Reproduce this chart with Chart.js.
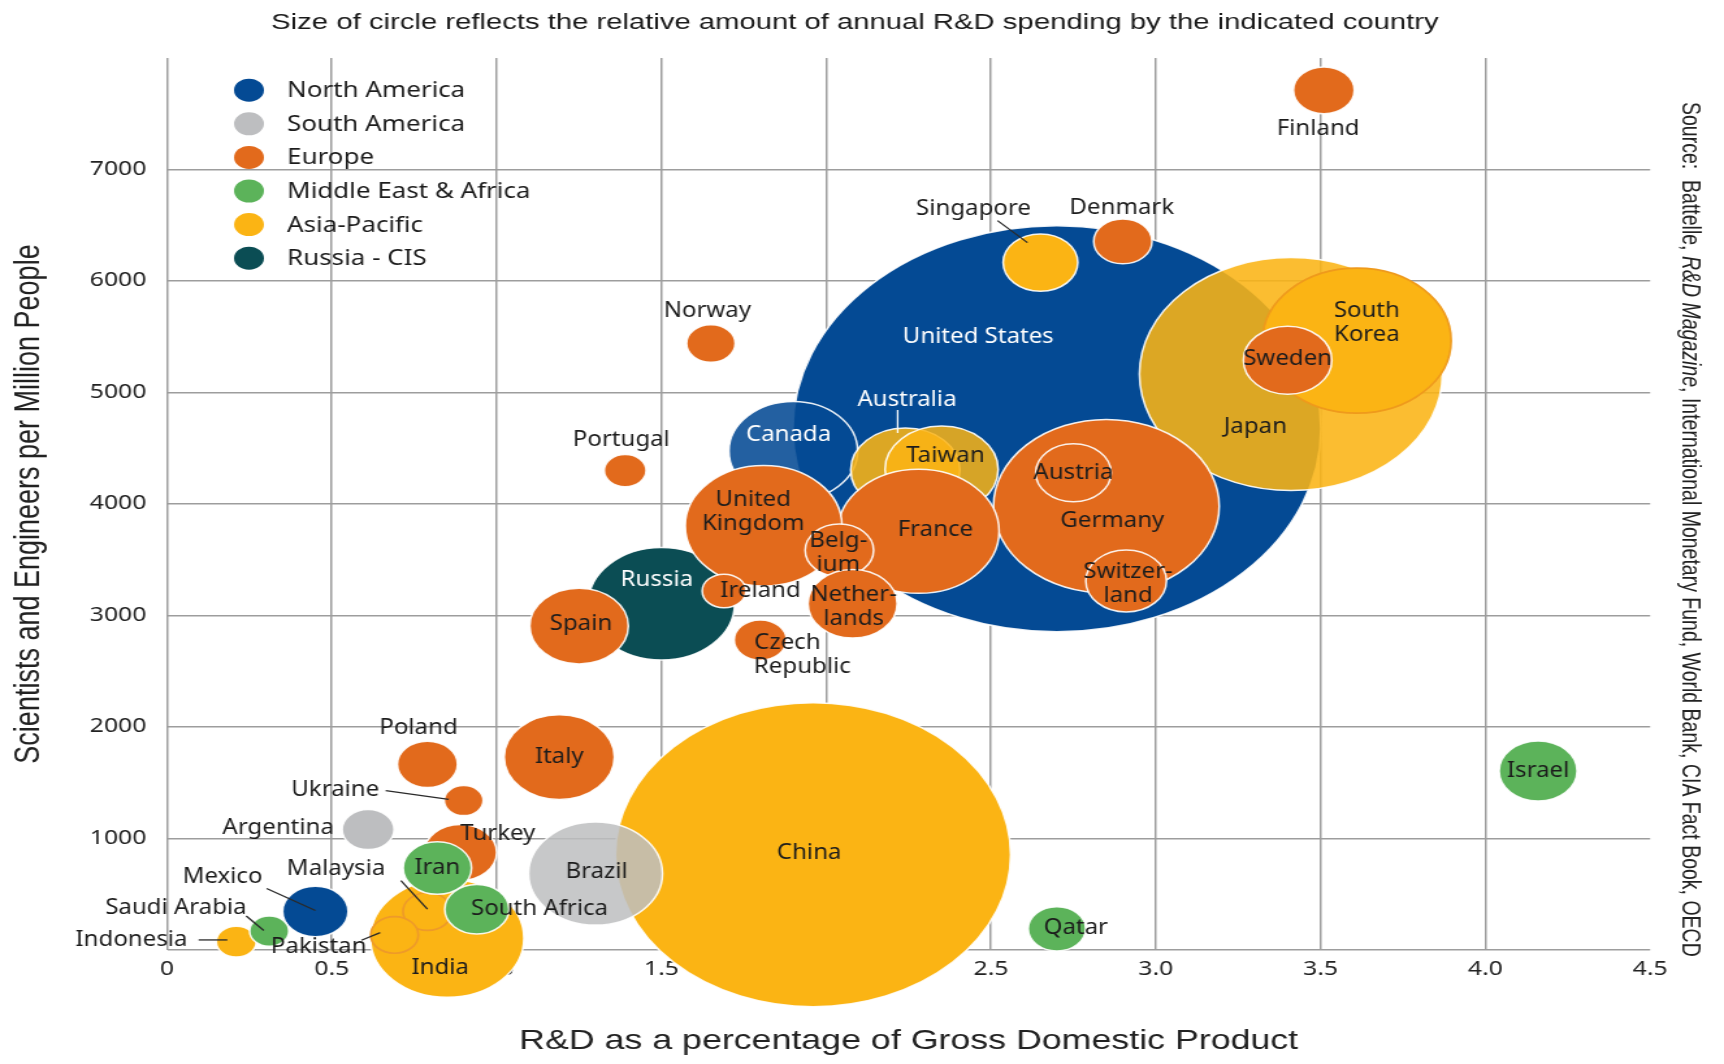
<!DOCTYPE html>
<html lang="en">
<head>
<meta charset="UTF-8">
<title>R&D spending vs. scientists and engineers</title>
<script src="https://cdn.jsdelivr.net/npm/chart.js"></script>
<style>
  html, body { margin: 0; padding: 0; background: #fff; }
</style>
</head>
<body>
<!-- drawn 1326 wide and stretched to 1724 like the original artwork -->
<canvas id="chart" width="1326" height="1064" style="width:1724px;height:1064px;display:block"></canvas>
<script>
// x = R&D as % of GDP, y = scientists & engineers per million people,
// r = bubble size (relative annual R&D spending)
const naCountries = ['United States', 'Canada', 'Mexico'];
const naRd = [2.70, 1.90, 0.45];
const naSci = [4675, 4475, 345];
const naSpend = [203, 49.5, 25.2];

const saCountries = ['Brazil', 'Argentina'];
const saRd = [1.30, 0.61];
const saSci = [685, 1080];
const saSpend = [51.5, 20];

const euCountries = ['Germany', 'Austria', 'Switzerland', 'France', 'United Kingdom', 'Belgium',
  'Netherlands', 'Ireland', 'Spain', 'Czech Republic', 'Italy', 'Poland', 'Ukraine', 'Turkey',
  'Norway', 'Portugal', 'Denmark', 'Sweden', 'Finland'];
const euRd = [2.85, 2.75, 2.91, 2.28, 1.81, 2.04, 2.08, 1.69, 1.25, 1.80, 1.19, 0.79, 0.90, 0.89,
  1.65, 1.39, 2.90, 3.40, 3.51];
const euSci = [3980, 4280, 3310, 3755, 3805, 3585, 3105, 3220, 2905, 2780, 1730, 1665, 1340, 875,
  5440, 4300, 6355, 5290, 7710];
const euSpend = [86.8, 29, 31, 62, 60.3, 26.3, 34.3, 16.8, 37.9, 20.1, 42.4, 23.1, 15, 27.9,
  18.7, 16.1, 22.4, 34, 23.4];

const meCountries = ['Iran', 'South Africa', 'Saudi Arabia', 'Qatar', 'Israel'];
const meRd = [0.82, 0.94, 0.31, 2.70, 4.16];
const meSci = [735, 365, 170, 190, 1605];
const meSpend = [26.3, 24.7, 15.1, 22.1, 30];

const apCountries = ['China', 'Japan', 'South Korea', 'Australia', 'Taiwan', 'India', 'Malaysia',
  'Pakistan', 'Singapore', 'Indonesia'];
const apRd = [1.96, 3.41, 3.61, 2.24, 2.35, 0.85, 0.79, 0.69, 2.65, 0.21];
const apSci = [855, 5165, 5465, 4305, 4310, 105, 345, 135, 6165, 75];
const apSpend = [152, 116.5, 72.5, 42, 43.5, 59, 18.8, 18.3, 28.7, 15.4];

const cisCountries = ['Russia'];
const cisRd = [1.50];
const cisSci = [3105];
const cisSpend = [56.3];

const xTicks = [0, 0.5, 1.0, 1.5, 2.0, 2.5, 3.0, 3.5, 4.0, 4.5];

// label placement around each bubble (px, canvas units)
const labelLayout = {
  'United States': { dx: -60.5, dy: -92, white: true },
  'Canada': { dx: -3.6, dy: -15.6, white: true },
  'Mexico': { dx: -71.4, dy: -35, lead: [-37.5, -23, 0, -1] },
  'Brazil': { dx: 0.8, dy: -2 },
  'Argentina': { dx: -69.2, dy: -1.5 },
  'Germany': { dx: 4.6, dy: 15 },
  'Austria': { dx: 0, dy: 0 },
  'Switzerland': { text: ['Switzer-', 'land'], dx: 1.5, dy: 3 },
  'France': { dx: 13, dy: -1 },
  'United Kingdom': { text: ['United', 'Kingdom'], dx: -8, dy: -13.7 },
  'Belgium': { text: ['Belg-', 'ium'], dx: -0.8, dy: 3 },
  'Netherlands': { text: ['Nether-', 'lands'], dx: 0.8, dy: 3 },
  'Ireland': { dx: 28, dy: 0 },
  'Spain': { dx: 1.5, dy: -2 },
  'Czech Republic': { text: ['Czech', 'Republic'], lineDx: [20.8, 32.3], dy: 14.7 },
  'Italy': { dx: 0, dy: 0 },
  'Poland': { dx: -6.9, dy: -36.6 },
  'Ukraine': { dx: -98.8, dy: -11, lead: [-60, -10, -11.5, -1.2] },
  'Turkey': { dx: 28.8, dy: -18 },
  'Norway': { dx: -2.7, dy: -32 },
  'Portugal': { dx: -3, dy: -31 },
  'Denmark': { dx: -0.8, dy: -33 },
  'Sweden': { dx: 0, dy: -1.6 },
  'Finland': { dx: -4.4, dy: 38.4 },
  'Iran': { dx: 0, dy: 0 },
  'South Africa': { dx: 48.2, dy: 0 },
  'Saudi Arabia': { dx: -71.8, dy: -22.6, lead: [-17.7, -15, -4.2, -0.6] },
  'Qatar': { dx: 14.6, dy: -1 },
  'Israel': { dx: 0, dy: 0 },
  'China': { dx: -3, dy: -2 },
  'Japan': { dx: -27.3, dy: 52.6 },
  'South Korea': { text: ['South', 'Korea'], dx: 7.7, dy: -17.3 },
  'Australia': { dx: 1.3, dy: -70, white: true, lead: [-5.9, -60, -5.9, -37] },
  'Taiwan': { dx: 3, dy: -13.5 },
  'India': { dx: -5.4, dy: 29.3 },
  'Malaysia': { dx: -70.3, dy: -43, lead: [-20.4, -31, 0, -2.4] },
  'Pakistan': { dx: -58.3, dy: 12, lead: [-25.4, 5.3, -11, -2.3] },
  'Singapore': { dx: -51.5, dy: -53.5, lead: [-33, -42, -10, -20] },
  'Indonesia': { dx: -80.6, dy: -1.7, lead: [-29, -1.7, -6.9, -1.7] },
  'Russia': { dx: -3.5, dy: -23.5, white: true }
};

// bubbles that get a coloured rim instead of the white one
const rimColors = {
  'South Korea': '#ef9a1c',
  'Malaysia': '#ee9a2a',
  'Pakistan': '#ee9a2a'
};

// bubbles drawn slightly see-through (everything else is opaque)
const seeThrough = {
  'Japan': 0.88,
  'Australia': 0.88,
  'Taiwan': 0.85,
  'Canada': 0.88,
  'Brazil': 0.85
};

function toPoints(names, xs, ys, rs) {
  return names.map((n, i) => ({ x: xs[i], y: ys[i], r: rs[i], name: n }));
}

function rgba(hex, a) {
  const n = parseInt(hex.slice(1), 16);
  return `rgba(${n >> 16},${(n >> 8) & 255},${n & 255},${a})`;
}

function region(label, color, order, points) {
  return {
    label,
    data: points,
    solid: color,
    backgroundColor: c => rgba(color, (c.raw && seeThrough[c.raw.name]) || 1),
    borderColor: c => (c.raw && rimColors[c.raw.name]) || 'rgba(255,255,255,0.9)',
    borderWidth: c => (c.raw && rimColors[c.raw.name]) ? 1.6 : 1.5,
    order,
    clip: false
  };
}

const LABEL_FONT = '21px "Noto Sans"';

function squeezedText(ctx, text, x, y, squeeze) {
  ctx.save();
  ctx.translate(x, y);
  ctx.scale(squeeze, 1);
  ctx.fillText(text, 0, 0);
  ctx.restore();
}

const countryLabels = {
  id: 'countryLabels',
  afterDatasetsDraw(chart) {
    const ctx = chart.ctx;
    ctx.save();
    ctx.font = LABEL_FONT;
    ctx.textAlign = 'center';
    ctx.textBaseline = 'middle';
    chart.data.datasets.forEach((ds, i) => {
      chart.getDatasetMeta(i).data.forEach((pt, j) => {
        const name = ds.data[j].name;
        const lay = labelLayout[name] || { dx: 0, dy: 0 };
        if (lay.lead) {
          ctx.beginPath();
          ctx.moveTo(pt.x + lay.lead[0], pt.y + lay.lead[1]);
          ctx.lineTo(pt.x + lay.lead[2], pt.y + lay.lead[3]);
          ctx.strokeStyle = lay.white ? '#ffffff' : '#2a2a2a';
          ctx.lineWidth = 1.3;
          ctx.stroke();
        }
        const lines = Array.isArray(lay.text) ? lay.text : [lay.text || name];
        ctx.fillStyle = lay.white ? '#ffffff' : '#1c1c1c';
        lines.forEach((t, k) => {
          const dx = lay.lineDx ? lay.lineDx[k] : lay.dx;
          const dy = lay.dy + (k - (lines.length - 1) / 2) * 24;
          squeezedText(ctx, t, pt.x + dx, pt.y + dy, 0.88);
        });
      });
    });
    ctx.restore();
  }
};

const regionLegend = {
  id: 'regionLegend',
  afterDatasetsDraw(chart) {
    const ctx = chart.ctx;
    const area = chart.chartArea;
    ctx.save();
    ctx.font = LABEL_FONT;
    ctx.textAlign = 'left';
    ctx.textBaseline = 'middle';
    chart.data.datasets.forEach((ds, i) => {
      const y = area.top + 32.2 + i * 33.6;
      ctx.beginPath();
      ctx.arc(area.left + 63, y, 11.5, 0, Math.PI * 2);
      ctx.fillStyle = ds.solid;
      ctx.fill();
      ctx.fillStyle = '#1c1c1c';
      squeezedText(ctx, ds.label, area.left + 92.3, y + 1, 0.95);
    });
    ctx.restore();
  }
};

const sourceNote = {
  id: 'sourceNote',
  afterDraw(chart) {
    const ctx = chart.ctx;
    const area = chart.chartArea;
    const parts = [
      ['Source:  Battelle, ', false],
      ['R&D Magazine', true],
      [', International Monetary Fund, World Bank, CIA Fact Book, OECD', false]
    ];
    ctx.save();
    ctx.translate(area.right + 30, area.top + 44);
    ctx.rotate(Math.PI / 2);
    ctx.textAlign = 'left';
    ctx.textBaseline = 'middle';
    ctx.fillStyle = '#222';
    let x = 0;
    parts.forEach(([t, it]) => {
      ctx.font = (it ? 'italic ' : '') + '19.5px "Liberation Sans"';
      ctx.fillText(t, x, 0);
      x += ctx.measureText(t).width;
    });
    ctx.restore();
  }
};

const gridColor = '#9d9d9d';

new Chart(document.getElementById('chart'), {
  type: 'bubble',
  data: {
    datasets: [
      region('North America', '#044a94', 5, toPoints(naCountries, naRd, naSci, naSpend)),
      region('South America', '#bdbec0', 1, toPoints(saCountries, saRd, saSci, saSpend)),
      region('Europe', '#e26a1c', 2, toPoints(euCountries, euRd, euSci, euSpend)),
      region('Middle East & Africa', '#5cb35a', 0, toPoints(meCountries, meRd, meSci, meSpend)),
      region('Asia-Pacific', '#fbb414', 3, toPoints(apCountries, apRd, apSci, apSpend)),
      region('Russia - CIS', '#0b4d54', 4, toPoints(cisCountries, cisRd, cisSci, cisSpend))
    ]
  },
  options: {
    responsive: false,
    devicePixelRatio: 1,
    animation: false,
    events: [],
    layout: { autoPadding: false, padding: { left: 0, right: 10.8, top: 0, bottom: 0 } },
    plugins: {
      legend: { display: false },
      tooltip: { enabled: false },
      title: {
        display: true,
        text: 'Size of circle reflects the relative amount of annual R&D spending by the indicated country',
        color: '#1a1a1a',
        font: { family: 'Liberation Sans', size: 22.5, weight: 'normal' },
        padding: { top: 9.5, bottom: 21.5 }
      }
    },
    scales: {
      x: {
        type: 'linear',
        min: 0,
        max: 4.5,
        afterBuildTicks: s => { s.ticks = xTicks.map(v => ({ value: v })); },
        ticks: {
          padding: 8,
          color: '#222',
          font: { family: 'Noto Sans', size: 19 },
          maxRotation: 0,
          autoSkip: false,
          callback: v => v === 0 ? '0' : v.toFixed(1)
        },
        grid: {
          color: c => c.tick && c.tick.value === 4.5 ? 'rgba(0,0,0,0)' : gridColor,
          lineWidth: 1.5,
          drawTicks: false
        },
        border: { display: false },
        title: {
          display: true,
          text: 'R&D as a percentage of Gross Domestic Product',
          color: '#222',
          font: { family: 'Liberation Sans', size: 27.5 },
          padding: { top: 0, bottom: 6.2 }
        },
        afterFit: s => { s.height = 114; }
      },
      y: {
        min: 0,
        max: 8000,
        ticks: {
          stepSize: 1000,
          padding: 16,
          color: '#222',
          font: { family: 'Noto Sans', size: 19 },
          callback: v => (v === 0 || v === 8000) ? '' : String(v)
        },
        grid: {
          color: c => c.tick && c.tick.value === 8000 ? 'rgba(0,0,0,0)' : gridColor,
          lineWidth: 1.5,
          drawTicks: false
        },
        border: { display: false },
        title: {
          display: true,
          text: 'Scientists and Engineers per Million People',
          color: '#222',
          font: { family: 'Liberation Sans', size: 27 },
          padding: { top: 6.6, bottom: 0 }
        },
        afterFit: s => { s.width = 128.5; }
      },
      // empty right-hand strip that holds the source note
      side: {
        position: 'right',
        display: true,
        grid: { display: false },
        ticks: { display: false },
        border: { display: false },
        afterFit: s => { s.width = 46; }
      }
    }
  },
  plugins: [countryLabels, regionLegend, sourceNote]
});
</script>
</body>
</html>
